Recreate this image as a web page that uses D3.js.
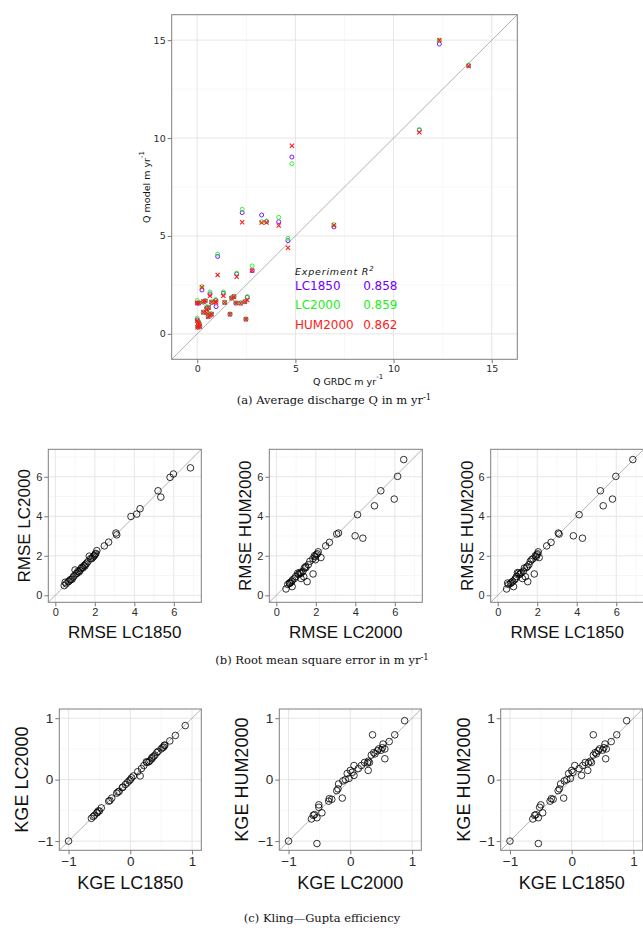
<!DOCTYPE html>
<html><head><meta charset="utf-8">
<script src="https://cdn.jsdelivr.net/npm/d3@7"></script>
<style>body{margin:0;background:#fff}svg{display:block}</style>
</head><body>
<svg id="c" width="643" height="928"></svg>
<script>
// ---- (a) average discharge, m/yr ----
const grdc     = [12.33,13.82,11.31,4.82,2.29,3.28,3.53,4.15,4.62,6.96,1.04,2.80,2.01,0.24,0.65,1.33,2.55,1.87,1.75,1.97,2.21,2.43,1.40,0.94,0.96,0.73,0.31,0.41,0.00,0.08,0.48,0.58,0.31,0.48,0.65,0.73,0.56,1.67,2.48,0.00,0.05,0.10,0.05,0.13,0.02];
const qLC1850  = [14.80,13.70,10.41,9.03,6.19,6.07,5.74,5.73,4.76,5.46,3.95,3.23,3.06,2.24,2.04,2.07,1.87,1.90,1.83,1.57,1.57,1.64,1.60,1.70,1.39,1.60,1.62,1.68,1.57,1.57,1.31,1.33,1.10,1.10,0.99,1.00,0.88,1.00,0.75,0.71,0.60,0.51,0.42,0.38,0.34];
const qLC2000  = [15.00,13.72,10.43,8.69,6.36,5.73,5.76,5.95,4.88,5.58,4.07,3.47,3.10,2.41,2.14,2.14,1.90,1.93,1.85,1.58,1.58,1.66,1.62,1.75,1.62,1.64,1.65,1.70,1.70,1.60,1.39,1.36,1.12,1.12,1.02,1.03,0.90,1.02,0.76,0.80,0.62,0.53,0.44,0.40,0.36];
const qHUM2000 = [15.00,13.68,10.29,9.61,5.70,5.68,5.69,5.53,4.40,5.55,3.01,3.23,2.92,2.38,1.94,1.94,1.73,1.90,1.82,1.57,1.56,1.64,1.60,1.65,1.60,1.62,1.65,1.68,1.57,1.57,1.26,1.35,1.10,1.08,0.95,1.00,0.87,1.00,0.75,0.67,0.58,0.50,0.40,0.37,0.33];
const experiments = ["LC1850","LC2000","HUM2000"];
const rSquared    = ["0.858","0.859","0.862"];
const qTicks = [0,5,10,15];

// ---- (b) RMSE, m/yr ----
const rmseLC1850  = [6.84,5.98,5.81,5.20,5.34,4.29,3.83,4.12,3.07,3.11,2.70,2.48,2.10,2.05,2.02,1.98,1.95,1.90,1.85,1.78,1.72,1.65,1.58,1.52,1.50,1.45,1.40,1.35,1.30,1.25,1.20,1.15,1.10,1.05,1.00,0.95,0.90,0.85,0.80,0.75,0.70,0.65,0.50,0.45,0.55];
const rmseLC2000  = [6.45,6.14,5.97,5.29,4.97,4.38,3.99,4.11,3.15,3.06,2.69,2.50,2.26,2.12,2.08,2.02,1.98,1.93,1.86,1.85,1.98,1.70,1.62,1.56,1.48,1.50,1.39,1.42,1.35,1.25,1.18,1.22,1.12,1.08,1.28,0.98,0.92,0.82,0.80,0.78,0.72,0.68,0.66,0.49,0.58];
const rmseHUM2000 = [6.87,6.02,4.87,5.29,4.53,2.89,3.01,4.08,3.15,3.10,2.68,2.50,1.91,2.20,2.10,2.05,1.95,2.00,1.08,1.85,1.80,1.72,1.55,0.69,1.45,1.40,0.94,1.38,1.22,0.85,1.15,1.10,1.05,1.12,1.15,0.95,0.85,0.78,0.44,0.70,0.65,0.60,0.62,0.32,0.55];
const rmseTicks = [0,2,4,6];

// ---- (c) KGE ----
const kgeLC1850  = [-1.00,0.89,0.73,0.64,0.54,0.56,0.55,0.35,0.50,0.52,0.45,0.38,0.35,0.30,0.27,0.26,0.22,0.18,0.16,0.05,0.00,0.02,-0.02,-0.08,-0.12,-0.18,-0.22,-0.13,-0.20,-0.33,-0.35,-0.30,-0.50,-0.47,-0.52,-0.58,-0.63,-0.54,-0.54,0.12,-0.05,0.43,0.40,-0.60,0.32];
const kgeLC2000  = [-1.00,0.88,0.72,0.63,0.53,0.56,0.56,0.36,0.50,0.52,0.46,0.38,0.34,0.29,0.28,0.29,0.23,0.18,0.06,0.06,0.00,0.03,-0.02,-0.08,-0.12,-0.19,-0.22,-0.13,-0.20,-0.34,-0.35,-0.30,-0.51,-0.46,-0.51,-0.58,-0.63,-0.54,-0.54,0.13,-0.05,0.44,0.40,-0.60,0.31];
const kgeHUM2000 = [-1.00,0.96,0.73,0.62,0.58,0.50,0.34,0.73,0.48,0.52,0.50,0.44,0.40,0.30,0.27,0.15,0.28,0.23,0.07,0.23,0.15,0.12,0.02,0.00,-0.02,-0.07,-0.18,-0.30,-0.15,-0.31,-0.35,-0.32,-0.41,-0.54,-0.45,-0.57,-0.64,-0.62,-1.04,0.18,0.10,0.47,0.42,-0.58,0.28];
const kgeTicks = [-1,0,1];

const colors = {LC1850:"#7000ff", LC2000:"#22ee22", HUM2000:"#ff1a1a"};

const svg = d3.select("#c");
const fmtMinus = d => (d < 0 ? "\u2212" + Math.abs(d) : String(d));

function panel(o) {
  const g = svg.append("g");
  const x = d3.scaleLinear().domain(o.domain).range([o.left, o.left + o.w]);
  const y = d3.scaleLinear().domain(o.domain).range([o.top + o.h, o.top]);
  g.append("rect").attr("x", o.left).attr("y", o.top).attr("width", o.w).attr("height", o.h).attr("fill", "#fff");
  o.minor.forEach(v => {
    g.append("line").attr("x1", x(v)).attr("x2", x(v)).attr("y1", o.top).attr("y2", o.top + o.h).attr("stroke", "#f2f2f2").attr("stroke-width", 0.6);
    g.append("line").attr("y1", y(v)).attr("y2", y(v)).attr("x1", o.left).attr("x2", o.left + o.w).attr("stroke", "#f2f2f2").attr("stroke-width", 0.6);
  });
  o.ticks.forEach(v => {
    g.append("line").attr("x1", x(v)).attr("x2", x(v)).attr("y1", o.top).attr("y2", o.top + o.h).attr("stroke", "#e6e6e6").attr("stroke-width", 1);
    g.append("line").attr("y1", y(v)).attr("y2", y(v)).attr("x1", o.left).attr("x2", o.left + o.w).attr("stroke", "#e6e6e6").attr("stroke-width", 1);
  });
  g.append("line").attr("x1", x(o.domain[0])).attr("y1", y(o.domain[0])).attr("x2", x(o.domain[1])).attr("y2", y(o.domain[1]))
    .attr("stroke", "#a0a0a0").attr("stroke-width", 0.8);
  const xa = d3.axisBottom(x).tickValues(o.ticks).tickSize(4).tickPadding(2).tickFormat(fmtMinus);
  const ya = d3.axisLeft(y).tickValues(o.ticks).tickSize(4).tickPadding(2).tickFormat(fmtMinus);
  const gx = g.append("g").attr("transform", `translate(0,${o.top + o.h})`).call(xa);
  const gy = g.append("g").attr("transform", `translate(${o.left},0)`).call(ya);
  [gx, gy].forEach(a => {
    a.select(".domain").remove();
    a.selectAll(".tick line").attr("stroke", "#555").attr("stroke-width", 0.8);
    a.selectAll("text").attr("font-family", o.font).attr("font-size", o.tickSize).attr("fill", "#2b2b2b");
  });
  g.append("rect").attr("x", o.left).attr("y", o.top).attr("width", o.w).attr("height", o.h)
    .attr("fill", "none").attr("stroke", "#7f7f7f").attr("stroke-width", 1);
  return {g, x, y};
}

function titled(text, x, y, size, font, rotate) {
  const t = svg.append("text").attr("font-family", font).attr("font-size", size).attr("fill", "#111")
    .attr("text-anchor", "middle").attr("dominant-baseline", "central");
  if (rotate) t.attr("transform", `translate(${x},${y}) rotate(-90)`); else t.attr("x", x).attr("y", y);
  return t;
}
function supText(t, main, sup, supSize) {
  t.append("tspan").text(main);
  t.append("tspan").attr("font-size", supSize).attr("dy", -4).text(sup);
}
function caption(x, y, main, sup) {
  const t = svg.append("text").attr("x", x).attr("y", y).attr("text-anchor", "middle").attr("font-family", "DejaVu Serif")
    .attr("font-size", 11.5).attr("fill", "#111");
  if (sup) supText(t, main, sup, 8.5); else t.text(main);
}

// ===== (a) =====
{
  const p = panel({left: 171.7, top: 14.7, w: 345.6, h: 344.6, domain: [-1.3, 16.3], ticks: qTicks, minor: [2.5, 7.5, 12.5],
    font: "DejaVu Sans", tickSize: 9.5});
  const series = [qLC1850, qLC2000, qHUM2000];
  experiments.forEach((name, k) => {
    const vals = series[k];
    if (name === "HUM2000") {
      const s = 2.1;
      p.g.append("g").selectAll("path").data(grdc).join("path")
        .attr("d", (d, i) => { const cx = p.x(d), cy = p.y(vals[i]); return `M${cx-s},${cy-s}L${cx+s},${cy+s}M${cx-s},${cy+s}L${cx+s},${cy-s}`; })
        .attr("stroke", colors[name]).attr("stroke-width", 1.1).attr("fill", "none");
    } else {
      p.g.append("g").selectAll("circle").data(grdc).join("circle")
        .attr("cx", d => p.x(d)).attr("cy", (d, i) => p.y(vals[i])).attr("r", 2)
        .attr("fill", "none").attr("stroke", colors[name]).attr("stroke-width", 0.9);
    }
  });
  const lx = p.x(4.98), vx = p.x(8.45);
  svg.append("text").attr("x", lx).attr("y", 274.5).attr("font-family", "DejaVu Sans").attr("font-style", "italic")
    .attr("font-size", 9.5).attr("letter-spacing", 0.8).attr("fill", "#111")
    .call(t => { t.append("tspan").text("Experiment R"); t.append("tspan").attr("font-size", 7).attr("dy", -4).text("2"); });
  experiments.forEach((name, k) => {
    const yy = 289.5 + k * 19.5;
    svg.append("text").attr("x", lx).attr("y", yy).attr("font-family", "DejaVu Sans").attr("font-size", 12).attr("fill", colors[name]).text(name);
    svg.append("text").attr("x", vx).attr("y", yy).attr("font-family", "DejaVu Sans").attr("font-size", 12).attr("fill", colors[name]).text(rSquared[k]);
  });
  supText(titled("", 146, 187, 9.5, "DejaVu Sans", true), "Q model m yr", "-1", 7);
  supText(titled("", 348, 381, 9.5, "DejaVu Sans", false), "Q GRDC m yr", "-1", 7);
}
caption(334, 404, "(a)  Average discharge Q in m yr", "-1");

// ===== (b) =====
const rmsePairs = [
  [rmseLC1850, rmseLC2000, "RMSE LC1850", "RMSE LC2000"],
  [rmseLC2000, rmseHUM2000, "RMSE LC2000", "RMSE HUM2000"],
  [rmseLC1850, rmseHUM2000, "RMSE LC1850", "RMSE HUM2000"]
];
const bLefts = [48.3, 269.3, 490.7];
rmsePairs.forEach(([xs, ys, xl, yl], k) => {
  const p = panel({left: bLefts[k], top: 449.3, w: 153, h: 153, domain: [-0.355, 7.39], ticks: rmseTicks, minor: [1, 3, 5, 7],
    font: "Liberation Sans", tickSize: 11});
  p.g.append("g").selectAll("circle").data(xs).join("circle")
    .attr("cx", d => p.x(d)).attr("cy", (d, i) => p.y(ys[i])).attr("r", 3.3)
    .attr("fill", "none").attr("stroke", "#000").attr("stroke-width", 0.8);
  titled("", bLefts[k] + 76.5, 632, 17, "Liberation Sans", false).text(xl);
  titled("", bLefts[k] - 23.5, 525.8, 17, "Liberation Sans", true).text(yl);
});
caption(322, 664, "(b)  Root mean square error in m yr", "-1");

// ===== (c) =====
const kgePairs = [
  [kgeLC1850, kgeLC2000, "KGE LC1850", "KGE LC2000"],
  [kgeLC2000, kgeHUM2000, "KGE LC2000", "KGE HUM2000"],
  [kgeLC1850, kgeHUM2000, "KGE LC1850", "KGE HUM2000"]
];
const cLefts = [59.3, 279.3, 500.7];
kgePairs.forEach(([xs, ys, xl, yl], k) => {
  const p = panel({left: cLefts[k], top: 709, w: 142, h: 141.3, domain: [-1.15, 1.15], ticks: kgeTicks, minor: [-0.5, 0.5],
    font: "Liberation Sans", tickSize: 13.5});
  p.g.append("g").selectAll("circle").data(xs).join("circle")
    .attr("cx", d => p.x(d)).attr("cy", (d, i) => p.y(ys[i])).attr("r", 3.3)
    .attr("fill", "none").attr("stroke", "#000").attr("stroke-width", 0.8);
  titled("", cLefts[k] + 71, 883, 18, "Liberation Sans", false).text(xl);
  titled("", cLefts[k] - 37, 779.6, 18, "Liberation Sans", true).text(yl);
});
caption(322, 922, "(c)  Kling\u2014Gupta efficiency");
</script>
</body></html>
